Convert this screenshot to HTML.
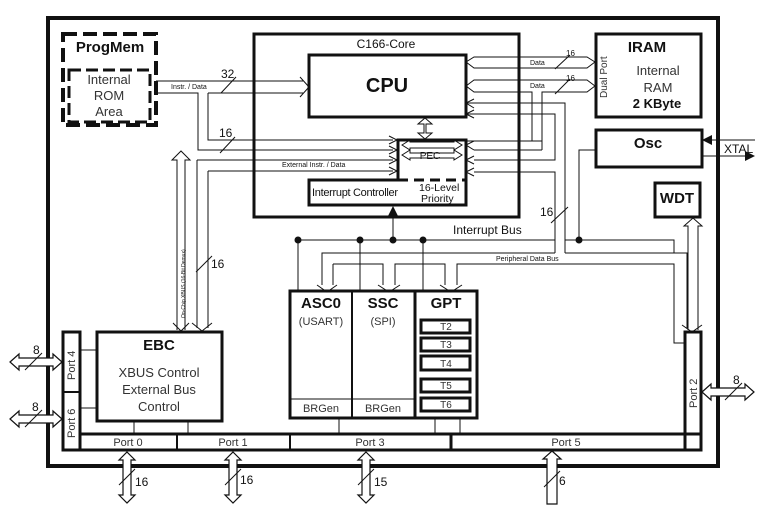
<!DOCTYPE html>
<html><head><meta charset="utf-8"><style>
body{margin:0;background:#fff}
svg{display:block;font-family:"Liberation Sans",Arial,sans-serif}
</style></head><body>
<svg width="770" height="530" viewBox="0 0 770 530" xmlns="http://www.w3.org/2000/svg">
<rect width="770" height="530" fill="#fff"/>
<g fill="none" stroke="#111">
<rect x="48" y="18" width="670" height="448" stroke-width="4"/>
<rect x="63" y="34" width="93" height="91" stroke-width="4" stroke-dasharray="14,6"/>
<rect x="69" y="70" width="81" height="52" stroke-width="3" stroke-dasharray="12,5"/>
<rect x="254" y="34" width="265" height="183" stroke-width="3"/>
<rect x="309" y="55" width="157" height="62" stroke-width="3"/>
<path d="M398 180 V140 H466 V205 H309 V180 H398" stroke-width="3"/>
<path d="M398 180 H466" stroke-width="3" stroke-dasharray="10,6"/>
<rect x="596" y="34" width="105" height="83" stroke-width="3"/>
<rect x="596" y="130" width="106" height="37" stroke-width="3"/>
<rect x="655" y="183" width="45" height="34" stroke-width="3"/>
<rect x="97" y="332" width="125" height="89" stroke-width="3"/>
<rect x="63" y="332" width="17" height="118" stroke-width="3"/>
<line x1="63" y1="392" x2="80" y2="392" stroke-width="2"/>
<rect x="80" y="434" width="621" height="16" stroke-width="3"/>
<rect x="685" y="332" width="16" height="118" stroke-width="3"/>
<line x1="177" y1="434" x2="177" y2="450" stroke-width="2"/>
<line x1="290" y1="434" x2="290" y2="450" stroke-width="2"/>
<line x1="451" y1="434" x2="451" y2="450" stroke-width="3"/>
<line x1="80" y1="350" x2="97" y2="350" stroke-width="1"/>
<line x1="80" y1="408" x2="97" y2="408" stroke-width="1"/>
<line x1="134" y1="421" x2="134" y2="434" stroke-width="1"/>
<line x1="188" y1="421" x2="188" y2="434" stroke-width="1"/>
<rect x="290" y="291" width="187" height="127" stroke-width="3"/>
<line x1="352" y1="291" x2="352" y2="418" stroke-width="2"/>
<line x1="415" y1="291" x2="415" y2="418" stroke-width="3"/>
<line x1="290" y1="399" x2="415" y2="399" stroke-width="1"/>
<rect x="421" y="320" width="49" height="13" stroke-width="3"/>
<rect x="421" y="338" width="49" height="13" stroke-width="3"/>
<rect x="421" y="356" width="49" height="14" stroke-width="3"/>
<rect x="421" y="379" width="49" height="13" stroke-width="3"/>
<rect x="421" y="398" width="49" height="13" stroke-width="3"/>
<line x1="339" y1="418" x2="339" y2="434" stroke-width="1"/>
<line x1="435" y1="418" x2="435" y2="434" stroke-width="1"/>
<line x1="460" y1="418" x2="460" y2="434" stroke-width="1"/>
</g>
<g fill="none" stroke="#111" stroke-width="1">
<path d="M156 81 H303 M156 93 H198 V150 H393 M208 93 H303 M208 93 V140 H393"/>
<path d="M300 77 L309 87 L300 97" />
<path d="M197 160 H393 M208 171 H393 M197 160 V328 M208 171 V328"/>
<path d="M389 136 L397 140 L389 144 M389 146 L397 150 L389 154 M389 156 L397 160 L389 164 M389 167 L397 171 L389 175"/>
<path d="M177 330 V160 L172 160 L181 151 L190 160 L185 160 V330"/>
<path d="M173 323 L181 331 L189 323 M192 323 L202 331 L212 323"/>
<path d="M425 118 L418 124 H424 V133 H418 L425 139 L432 133 H426 V124 H432 Z" />
<path d="M402 145 L410 140 V142 H454 V140 L462 145 L454 150 V148 H410 V150 Z"/>
<path d="M402 155 L410 150 V153 H454 V150 L462 155 L454 160 V158 H410 V160 Z"/>
<path d="M466 62 L474 57 V57 H587 L595 62 M466 62 L474 68 H587 L595 62"/>
<path d="M466 86 L474 80 H587 L595 86 M466 86 L474 92 H532 V141 H466 M542 141 V92 H587 L595 86"/>
<path d="M474 141 L466 145 L474 150 M542 141 H474 M474 150 H542 M542 150 V141"/>
<path d="M466 103 H565 V253 M466 114 H555 V160 H474 M474 172 H555 V253"/>
<path d="M474 99 L466 103 L474 108 M474 110 L466 114 L474 118 M474 156 L466 160 L474 164 M474 168 L466 172 L474 176"/>
<path d="M298 240 H555 M565 240 H674 V253 M298 240 V291 M360 240 V291 M423 240 V291 M393 240 V210"/>
<path d="M579 240 V150 H596"/>
<path d="M555 253 H322 V285 M565 253 H687 V328 M333 264 V285 M333 264 H383 V285 M395 285 V264 H445 V285 M457 285 V264 H674 V343 H685"/>
<path d="M317 285 L327 292 L337 285 M378 285 L389 292 L400 285 M440 285 L451 292 L462 285 M682 325 L692 332 L702 325"/>
<path d="M688 330 V226 H684 L693 218 L702 226 H698 V330"/>
<path d="M702 140 H755 M702 156 H748"/>
</g>
<g fill="#111">
<polygon points="702,140 712,135 712,145"/>
<polygon points="755,156 745,151 745,161"/>
<polygon points="393,206 388,216 398,216"/>
<circle cx="298" cy="240" r="3.5"/><circle cx="360" cy="240" r="3.5"/><circle cx="393" cy="240" r="3.5"/><circle cx="423" cy="240" r="3.5"/><circle cx="579" cy="240" r="3.5"/>
</g>
<g fill="#fff" stroke="#111" stroke-width="1.2">
<path d="M10 362 L19 354 V358 H53 V354 L62 362 L53 370 V366 H19 V370 Z"/>
<path d="M10 419 L19 411 V415 H53 V411 L62 419 L53 427 V423 H19 V427 Z"/>
<path d="M702 392 L711 384 V388 H745 V384 L754 392 L745 400 V396 H711 V400 Z"/>
<path d="M127 452 L135 460 H131 V495 H135 L127 503 L119 495 H123 V460 H119 Z"/>
<path d="M233 452 L241 460 H237 V495 H241 L233 503 L225 495 H229 V460 H225 Z"/>
<path d="M366 452 L374 460 H370 V495 H374 L366 503 L358 495 H362 V460 H358 Z"/>
<path d="M552 451 L561 459 H557 V504 H547 V459 H543 Z"/>
</g>
<g stroke="#111" stroke-width="1">
<line x1="221" y1="93" x2="236" y2="77"/>
<line x1="220" y1="153" x2="235" y2="137"/>
<line x1="196" y1="272" x2="212" y2="256"/>
<line x1="555" y1="69" x2="570" y2="55"/>
<line x1="555" y1="94" x2="570" y2="79"/>
<line x1="551" y1="223" x2="568" y2="207"/>
<line x1="25" y1="370" x2="42" y2="353"/>
<line x1="25" y1="427" x2="42" y2="410"/>
<line x1="725" y1="400" x2="742" y2="383"/>
<line x1="119" y1="485" x2="135" y2="469"/>
<line x1="225" y1="485" x2="241" y2="469"/>
<line x1="358" y1="485" x2="374" y2="469"/>
<line x1="544" y1="487" x2="560" y2="471"/>
</g>
<g fill="#111" font-size="12">
<text x="221" y="78">32</text>
<text x="219" y="137">16</text>
<text x="211" y="268">16</text>
<text x="540" y="216">16</text>
<text x="33" y="354">8</text>
<text x="32" y="411">8</text>
<text x="733" y="384">8</text>
<text x="135" y="486">16</text>
<text x="240" y="484">16</text>
<text x="374" y="486">15</text>
<text x="559" y="485">6</text>
<text x="724" y="153">XTAL</text>
<text x="453" y="234">Interrupt Bus</text>
<text x="566" y="56" font-size="8">16</text>
<text x="566" y="81" font-size="8">16</text>
</g>
<g fill="#111" font-size="7">
<text x="171" y="89">Instr. / Data</text>
<text x="282" y="167">External Instr. / Data</text>
<text x="530" y="65">Data</text>
<text x="530" y="88">Data</text>
<text x="496" y="261">Peripheral Data Bus</text>
<text transform="translate(185,318) rotate(-90)" font-size="5">On-Chip XBUS (16-Bit Demux)</text>
</g>
<g fill="#111" text-anchor="middle">
<text x="110" y="52" font-size="15" font-weight="bold">ProgMem</text>
<text x="109" y="84" font-size="13" fill="#333">Internal</text>
<text x="109" y="100" font-size="13" fill="#333">ROM</text>
<text x="109" y="116" font-size="13" fill="#333">Area</text>
<text x="386" y="48" font-size="12">C166-Core</text>
<text x="387" y="92" font-size="20" font-weight="bold">CPU</text>
<text x="430" y="159" font-size="10">PEC</text>
<text x="647" y="52" font-size="15" font-weight="bold">IRAM</text>
<text x="658" y="75" font-size="13" fill="#333">Internal</text>
<text x="658" y="92" font-size="13" fill="#333">RAM</text>
<text x="657" y="108" font-size="13" font-weight="bold">2 KByte</text>
<text x="648" y="148" font-size="15" font-weight="bold">Osc</text>
<text x="677" y="203" font-size="15" font-weight="bold">WDT</text>
<text x="159" y="350" font-size="15" font-weight="bold">EBC</text>
<text x="159" y="377" font-size="13" fill="#333">XBUS Control</text>
<text x="159" y="394" font-size="13" fill="#333">External Bus</text>
<text x="159" y="411" font-size="13" fill="#333">Control</text>
<text x="321" y="308" font-size="15" font-weight="bold">ASC0</text>
<text x="321" y="325" font-size="11" fill="#333">(USART)</text>
<text x="383" y="308" font-size="15" font-weight="bold">SSC</text>
<text x="383" y="325" font-size="11" fill="#333">(SPI)</text>
<text x="446" y="308" font-size="15" font-weight="bold">GPT</text>
<text x="321" y="412" font-size="11" fill="#333">BRGen</text>
<text x="383" y="412" font-size="11" fill="#333">BRGen</text>
<g font-size="10" fill="#333">
<text x="446" y="330">T2</text><text x="446" y="348">T3</text><text x="446" y="367">T4</text><text x="446" y="389">T5</text><text x="446" y="408">T6</text>
</g>
<g font-size="11" fill="#333">
<text x="128" y="446">Port 0</text><text x="233" y="446">Port 1</text><text x="370" y="446">Port 3</text><text x="566" y="446">Port 5</text>
</g>
</g>
<g fill="#111" font-size="11">
<text x="312" y="196" font-size="11" letter-spacing="-0.3">Interrupt Controller</text>
<text x="419" y="191" font-size="10.5">16-Level</text>
<text x="421" y="202" font-size="10.5">Priority</text>
<text transform="translate(75,380) rotate(-90)" fill="#333">Port 4</text>
<text transform="translate(75,438) rotate(-90)" fill="#333">Port 6</text>
<text transform="translate(697,408) rotate(-90)" fill="#333">Port 2</text>
<text transform="translate(607,98) rotate(-90)" font-size="10" fill="#333">Dual Port</text>
</g>
</svg>
</body></html>
